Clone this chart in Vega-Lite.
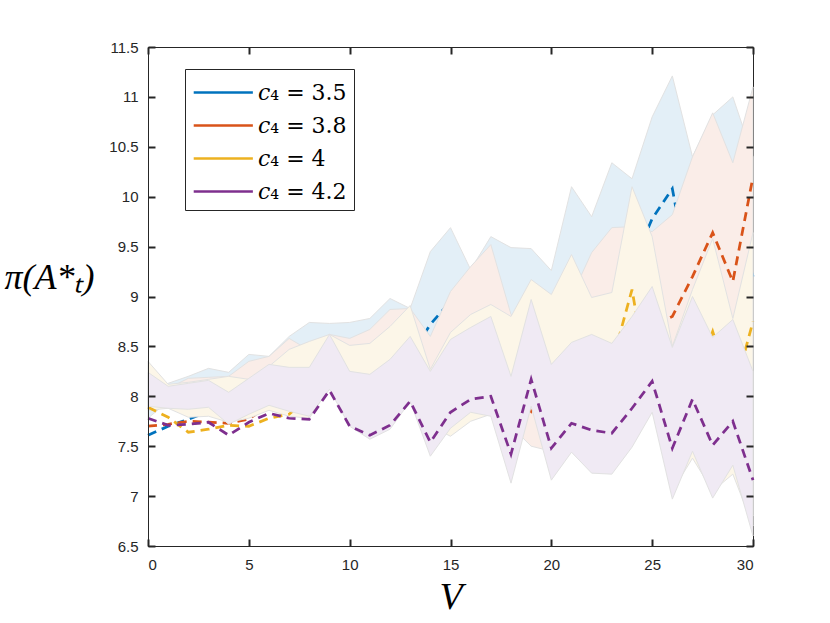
{
  "$schema": "https://vega.github.io/schema/vega-lite/v6.json",
  "description": "pi(A_T*) against V for four values of c4, shaded bands with dashed mean lines.",
  "width": 605,
  "height": 499,
  "autosize": {"type": "none"},
  "padding": {"left": 148, "top": 47, "right": 77, "bottom": 77},
  "data": {
    "values": [
      {"s": "3.5", "V": 0, "m": 7.61, "lo": 7.78, "hi": 8.0},
      {"s": "3.5", "V": 1, "m": 7.7, "lo": 7.95, "hi": 8.13},
      {"s": "3.5", "V": 2, "m": 7.77, "lo": 7.95, "hi": 8.2},
      {"s": "3.5", "V": 3, "m": 7.85, "lo": 7.95, "hi": 8.28},
      {"s": "3.5", "V": 4, "m": 7.9, "lo": 7.85, "hi": 8.24},
      {"s": "3.5", "V": 5, "m": 7.95, "lo": 7.9, "hi": 8.42},
      {"s": "3.5", "V": 6, "m": 8.0, "lo": 7.98, "hi": 8.4},
      {"s": "3.5", "V": 7, "m": 8.05, "lo": 7.95, "hi": 8.6},
      {"s": "3.5", "V": 8, "m": 8.1, "lo": 7.9, "hi": 8.74},
      {"s": "3.5", "V": 9, "m": 8.2, "lo": 8.15, "hi": 8.73},
      {"s": "3.5", "V": 10, "m": 8.25, "lo": 7.85, "hi": 8.74},
      {"s": "3.5", "V": 11, "m": 8.3, "lo": 7.75, "hi": 8.78},
      {"s": "3.5", "V": 12, "m": 8.35, "lo": 7.8, "hi": 8.98},
      {"s": "3.5", "V": 13, "m": 8.4, "lo": 8.05, "hi": 8.88},
      {"s": "3.5", "V": 14, "m": 8.72, "lo": 7.6, "hi": 9.45},
      {"s": "3.5", "V": 15, "m": 8.95, "lo": 7.85, "hi": 9.69},
      {"s": "3.5", "V": 16, "m": 9.0, "lo": 8.0, "hi": 9.27},
      {"s": "3.5", "V": 17, "m": 9.1, "lo": 7.95, "hi": 9.6},
      {"s": "3.5", "V": 18, "m": 8.6, "lo": 7.4, "hi": 9.49},
      {"s": "3.5", "V": 19, "m": 8.8, "lo": 8.0, "hi": 9.48},
      {"s": "3.5", "V": 20, "m": 8.8, "lo": 7.4, "hi": 9.26},
      {"s": "3.5", "V": 21, "m": 9.0, "lo": 7.6, "hi": 10.1},
      {"s": "3.5", "V": 22, "m": 9.1, "lo": 7.45, "hi": 9.8},
      {"s": "3.5", "V": 23, "m": 9.3, "lo": 7.4, "hi": 10.34},
      {"s": "3.5", "V": 24, "m": 9.3, "lo": 7.6, "hi": 10.18},
      {"s": "3.5", "V": 25, "m": 9.78, "lo": 7.95, "hi": 10.8},
      {"s": "3.5", "V": 26, "m": 10.08, "lo": 7.2, "hi": 11.21},
      {"s": "3.5", "V": 27, "m": 9.0, "lo": 7.6, "hi": 10.4},
      {"s": "3.5", "V": 28, "m": 9.8, "lo": 7.2, "hi": 10.82},
      {"s": "3.5", "V": 29, "m": 10.0, "lo": 7.5, "hi": 11.0},
      {"s": "3.5", "V": 30, "m": 9.2, "lo": 7.0, "hi": 10.4},
      {"s": "3.8", "V": 0, "m": 7.7, "lo": 7.88, "hi": 8.0},
      {"s": "3.8", "V": 1, "m": 7.72, "lo": 7.9, "hi": 8.08},
      {"s": "3.8", "V": 2, "m": 7.75, "lo": 7.9, "hi": 8.18},
      {"s": "3.8", "V": 3, "m": 7.74, "lo": 7.92, "hi": 8.19},
      {"s": "3.8", "V": 4, "m": 7.73, "lo": 7.78, "hi": 8.2},
      {"s": "3.8", "V": 5, "m": 7.77, "lo": 7.86, "hi": 8.35},
      {"s": "3.8", "V": 6, "m": 7.92, "lo": 7.95, "hi": 8.4},
      {"s": "3.8", "V": 7, "m": 8.0, "lo": 7.9, "hi": 8.58},
      {"s": "3.8", "V": 8, "m": 8.0, "lo": 7.85, "hi": 8.46},
      {"s": "3.8", "V": 9, "m": 8.1, "lo": 8.1, "hi": 8.62},
      {"s": "3.8", "V": 10, "m": 8.1, "lo": 7.75, "hi": 8.58},
      {"s": "3.8", "V": 11, "m": 8.15, "lo": 7.62, "hi": 8.67},
      {"s": "3.8", "V": 12, "m": 8.2, "lo": 7.72, "hi": 8.87},
      {"s": "3.8", "V": 13, "m": 8.3, "lo": 7.98, "hi": 8.88},
      {"s": "3.8", "V": 14, "m": 8.2, "lo": 7.5, "hi": 8.6},
      {"s": "3.8", "V": 15, "m": 8.3, "lo": 7.75, "hi": 9.05},
      {"s": "3.8", "V": 16, "m": 8.4, "lo": 7.9, "hi": 9.3},
      {"s": "3.8", "V": 17, "m": 8.5, "lo": 7.85, "hi": 9.52},
      {"s": "3.8", "V": 18, "m": 8.1, "lo": 7.7, "hi": 8.82},
      {"s": "3.8", "V": 19, "m": 7.85, "lo": 7.5, "hi": 8.7},
      {"s": "3.8", "V": 20, "m": 8.2, "lo": 7.45, "hi": 8.8},
      {"s": "3.8", "V": 21, "m": 8.3, "lo": 7.6, "hi": 9.0},
      {"s": "3.8", "V": 22, "m": 8.4, "lo": 7.35, "hi": 9.44},
      {"s": "3.8", "V": 23, "m": 8.5, "lo": 7.32, "hi": 9.69},
      {"s": "3.8", "V": 24, "m": 8.6, "lo": 7.55, "hi": 9.7},
      {"s": "3.8", "V": 25, "m": 8.7, "lo": 7.9, "hi": 9.65},
      {"s": "3.8", "V": 26, "m": 8.8, "lo": 7.1, "hi": 9.82},
      {"s": "3.8", "V": 27, "m": 9.2, "lo": 7.55, "hi": 10.4},
      {"s": "3.8", "V": 28, "m": 9.64, "lo": 7.1, "hi": 10.84},
      {"s": "3.8", "V": 29, "m": 9.15, "lo": 7.4, "hi": 10.34},
      {"s": "3.8", "V": 30, "m": 10.2, "lo": 6.8, "hi": 11.1},
      {"s": "4", "V": 0, "m": 7.89, "lo": 7.86, "hi": 8.35},
      {"s": "4", "V": 1, "m": 7.79, "lo": 7.88, "hi": 8.12},
      {"s": "4", "V": 2, "m": 7.64, "lo": 7.79, "hi": 8.14},
      {"s": "4", "V": 3, "m": 7.67, "lo": 7.8, "hi": 8.17},
      {"s": "4", "V": 4, "m": 7.71, "lo": 7.74, "hi": 8.2},
      {"s": "4", "V": 5, "m": 7.7, "lo": 7.78, "hi": 8.17},
      {"s": "4", "V": 6, "m": 7.78, "lo": 7.86, "hi": 8.3},
      {"s": "4", "V": 7, "m": 7.82, "lo": 7.8, "hi": 8.47},
      {"s": "4", "V": 8, "m": 8.0, "lo": 7.78, "hi": 8.55},
      {"s": "4", "V": 9, "m": 8.1, "lo": 8.09, "hi": 8.62},
      {"s": "4", "V": 10, "m": 8.05, "lo": 7.72, "hi": 8.51},
      {"s": "4", "V": 11, "m": 8.0, "lo": 7.6, "hi": 8.53},
      {"s": "4", "V": 12, "m": 8.1, "lo": 7.7, "hi": 8.7},
      {"s": "4", "V": 13, "m": 8.2, "lo": 7.96, "hi": 8.91},
      {"s": "4", "V": 14, "m": 7.9, "lo": 7.7, "hi": 8.27},
      {"s": "4", "V": 15, "m": 8.1, "lo": 7.6, "hi": 8.64},
      {"s": "4", "V": 16, "m": 8.2, "lo": 7.75, "hi": 8.82},
      {"s": "4", "V": 17, "m": 8.3, "lo": 7.82, "hi": 8.92},
      {"s": "4", "V": 18, "m": 7.9, "lo": 7.3, "hi": 8.8},
      {"s": "4", "V": 19, "m": 8.3, "lo": 7.95, "hi": 9.17},
      {"s": "4", "V": 20, "m": 7.9, "lo": 7.3, "hi": 9.02},
      {"s": "4", "V": 21, "m": 8.0, "lo": 7.5, "hi": 9.42},
      {"s": "4", "V": 22, "m": 8.1, "lo": 7.3, "hi": 8.99},
      {"s": "4", "V": 23, "m": 8.33, "lo": 7.3, "hi": 9.04},
      {"s": "4", "V": 24, "m": 9.07, "lo": 7.52, "hi": 10.1},
      {"s": "4", "V": 25, "m": 7.9, "lo": 7.88, "hi": 9.6},
      {"s": "4", "V": 26, "m": 8.0, "lo": 7.05, "hi": 8.5},
      {"s": "4", "V": 27, "m": 8.1, "lo": 7.38, "hi": 9.07},
      {"s": "4", "V": 28, "m": 8.65, "lo": 7.05, "hi": 9.58},
      {"s": "4", "V": 29, "m": 8.0, "lo": 7.22, "hi": 8.78},
      {"s": "4", "V": 30, "m": 8.75, "lo": 6.7, "hi": 9.64},
      {"s": "4.2", "V": 0, "m": 7.78, "lo": 7.9, "hi": 8.24},
      {"s": "4.2", "V": 1, "m": 7.71, "lo": 7.88, "hi": 8.1},
      {"s": "4.2", "V": 2, "m": 7.72, "lo": 7.87, "hi": 8.13},
      {"s": "4.2", "V": 3, "m": 7.74, "lo": 7.89, "hi": 8.16},
      {"s": "4.2", "V": 4, "m": 7.61, "lo": 7.72, "hi": 8.04},
      {"s": "4.2", "V": 5, "m": 7.74, "lo": 7.82, "hi": 8.18},
      {"s": "4.2", "V": 6, "m": 7.83, "lo": 7.91, "hi": 8.32},
      {"s": "4.2", "V": 7, "m": 7.78, "lo": 7.85, "hi": 8.29},
      {"s": "4.2", "V": 8, "m": 7.77, "lo": 7.8, "hi": 8.29},
      {"s": "4.2", "V": 9, "m": 8.06, "lo": 8.07, "hi": 8.62},
      {"s": "4.2", "V": 10, "m": 7.7, "lo": 7.7, "hi": 8.25},
      {"s": "4.2", "V": 11, "m": 7.61, "lo": 7.57, "hi": 8.22},
      {"s": "4.2", "V": 12, "m": 7.71, "lo": 7.67, "hi": 8.37},
      {"s": "4.2", "V": 13, "m": 7.95, "lo": 7.95, "hi": 8.6},
      {"s": "4.2", "V": 14, "m": 7.54, "lo": 7.4, "hi": 8.25},
      {"s": "4.2", "V": 15, "m": 7.84, "lo": 7.68, "hi": 8.57},
      {"s": "4.2", "V": 16, "m": 7.97, "lo": 7.84, "hi": 8.69},
      {"s": "4.2", "V": 17, "m": 8.0, "lo": 7.8, "hi": 8.8},
      {"s": "4.2", "V": 18, "m": 7.42, "lo": 7.13, "hi": 8.2},
      {"s": "4.2", "V": 19, "m": 8.17, "lo": 7.9, "hi": 8.97},
      {"s": "4.2", "V": 20, "m": 7.48, "lo": 7.16, "hi": 8.32},
      {"s": "4.2", "V": 21, "m": 7.73, "lo": 7.44, "hi": 8.54},
      {"s": "4.2", "V": 22, "m": 7.66, "lo": 7.23, "hi": 8.62},
      {"s": "4.2", "V": 23, "m": 7.63, "lo": 7.22, "hi": 8.53},
      {"s": "4.2", "V": 24, "m": 7.88, "lo": 7.49, "hi": 8.8},
      {"s": "4.2", "V": 25, "m": 8.15, "lo": 7.84, "hi": 9.1},
      {"s": "4.2", "V": 26, "m": 7.48, "lo": 6.97, "hi": 8.49},
      {"s": "4.2", "V": 27, "m": 7.97, "lo": 7.45, "hi": 9.0},
      {"s": "4.2", "V": 28, "m": 7.51, "lo": 6.98, "hi": 8.59},
      {"s": "4.2", "V": 29, "m": 7.75, "lo": 7.31, "hi": 8.77},
      {"s": "4.2", "V": 30, "m": 7.16, "lo": 6.6, "hi": 8.25}
    ]
  },
  "layer": [
    {
      "transform": [{"filter": "datum.s === '3.5'"}],
      "mark": {"type": "area", "fill": "#E3EFF7", "stroke": "#E2E2E2", "strokeWidth": 1},
      "encoding": {
        "x": {"field": "V", "type": "quantitative", "scale": {"domain": [0, 30], "nice": false, "zero": false},
              "axis": {"orient": "top", "labels": false, "domain": false, "title": null, "zindex": 1,
                       "tickSize": -7, "tickWidth": 2, "tickColor": "#262626",
                       "values": [0, 5, 10, 15, 20, 25, 30]}},
        "y": {"field": "hi", "type": "quantitative", "scale": {"domain": [6.5, 11.5], "nice": false, "zero": false},
              "axis": {"orient": "right", "labels": false, "domain": false, "title": null, "zindex": 1,
                       "tickSize": -7, "tickWidth": 2, "tickColor": "#262626",
                       "values": [6.5, 7, 7.5, 8, 8.5, 9, 9.5, 10, 10.5, 11, 11.5]}},
        "y2": {"field": "lo"}
      }
    },
    {
      "transform": [{"filter": "datum.s === '3.5'"}],
      "mark": {"type": "line", "strokeWidth": 2.75, "strokeDash": [9, 6]},
      "encoding": {
        "x": {"field": "V", "type": "quantitative", "axis": null},
        "y": {"field": "m", "type": "quantitative", "axis": null},
        "stroke": {"field": "s", "type": "nominal", "scale": {"domain": ["3.5", "3.8", "4", "4.2"], "range": ["#0072BD", "#D95319", "#EDB120", "#7E2F8E"]},
                   "legend": {"labelExpr": "'𝑐₄ = ' + datum.label"}}
      }
    },
    {
      "transform": [{"filter": "datum.s === '3.8'"}],
      "mark": {"type": "area", "fill": "#FAEDE8", "stroke": "#E2E2E2", "strokeWidth": 1},
      "encoding": {
        "x": {"field": "V", "type": "quantitative", "axis": null},
        "y": {"field": "hi", "type": "quantitative", "axis": null},
        "y2": {"field": "lo"}
      }
    },
    {
      "transform": [{"filter": "datum.s === '3.8'"}],
      "mark": {"type": "line", "strokeWidth": 2.75, "strokeDash": [9, 6]},
      "encoding": {
        "x": {"field": "V", "type": "quantitative", "axis": null},
        "y": {"field": "m", "type": "quantitative", "axis": null},
        "stroke": {"field": "s", "type": "nominal", "legend": {"labelExpr": "'𝑐₄ = ' + datum.label"}}
      }
    },
    {
      "transform": [{"filter": "datum.s === '4'"}],
      "mark": {"type": "area", "fill": "#FCF6E8", "stroke": "#E2E2E2", "strokeWidth": 1},
      "encoding": {
        "x": {"field": "V", "type": "quantitative", "axis": null},
        "y": {"field": "hi", "type": "quantitative", "axis": null},
        "y2": {"field": "lo"}
      }
    },
    {
      "transform": [{"filter": "datum.s === '4'"}],
      "mark": {"type": "line", "strokeWidth": 2.75, "strokeDash": [9, 6]},
      "encoding": {
        "x": {"field": "V", "type": "quantitative", "axis": null},
        "y": {"field": "m", "type": "quantitative", "axis": null},
        "stroke": {"field": "s", "type": "nominal", "legend": {"labelExpr": "'𝑐₄ = ' + datum.label"}}
      }
    },
    {
      "transform": [{"filter": "datum.s === '4.2'"}],
      "mark": {"type": "area", "fill": "#F0EAF4", "stroke": "#E2E2E2", "strokeWidth": 1},
      "encoding": {
        "x": {"field": "V", "type": "quantitative", "axis": null},
        "y": {"field": "hi", "type": "quantitative", "axis": null},
        "y2": {"field": "lo"}
      }
    },
    {
      "transform": [{"filter": "datum.s === '4.2'"}],
      "mark": {"type": "line", "strokeWidth": 2.75, "strokeDash": [9, 6]},
      "encoding": {
        "x": {"field": "V", "type": "quantitative",
              "axis": {"orient": "bottom", "title": "V", "values": [0, 5, 10, 15, 20, 25, 30], "labelPadding": 18, "zindex": 1,
                       "tickSize": -7, "tickWidth": 2, "tickColor": "#262626",
                       "titleFont": "Liberation Serif", "titleFontStyle": "italic", "titleFontSize": 38, "titlePadding": 6}},
        "y": {"field": "m", "type": "quantitative",
              "axis": {"orient": "left", "title": "π(A*ₜ)", "values": [6.5, 7, 7.5, 8, 8.5, 9, 9.5, 10, 10.5, 11, 11.5], "format": "~g", "labelPadding": 17, "zindex": 1,
                       "tickSize": -7, "tickWidth": 2, "tickColor": "#262626",
                       "titleAngle": 0, "titleAlign": "right", "titleBaseline": "middle", "titleX": -54, "titleY": 230,
                       "titleFont": "Liberation Serif", "titleFontStyle": "italic", "titleFontSize": 36}},
        "stroke": {"field": "s", "type": "nominal", "legend": {"labelExpr": "'𝑐₄ = ' + datum.label"}}
      }
    }
  ],
  "resolve": {"axis": {"x": "independent", "y": "independent"}},
  "config": {
    "view": {"stroke": "#262626", "strokeWidth": 1},
    "axis": {
      "grid": false,
      "domainColor": "#262626",
      "labelColor": "#262626",
      "labelFont": "Liberation Sans",
      "labelFontSize": 15,
      "titleColor": "#000000",
      "titleFontWeight": "normal"
    },
    "legend": {
      "orient": "none",
      "legendX": 37,
      "legendY": 22,
      "title": null,
      "symbolType": "M-1,0H3",
      "symbolSize": 875,
      "symbolStrokeWidth": 2.5,
      "symbolDash": [1, 0],
      "labelFont": "DejaVu Serif",
      "labelFontSize": 22,
      "labelColor": "#000000",
      "labelOffset": 33,
      "rowPadding": 5,
      "padding": 7,
      "fillColor": "#ffffff",
      "strokeColor": "#262626"
    }
  }
}
